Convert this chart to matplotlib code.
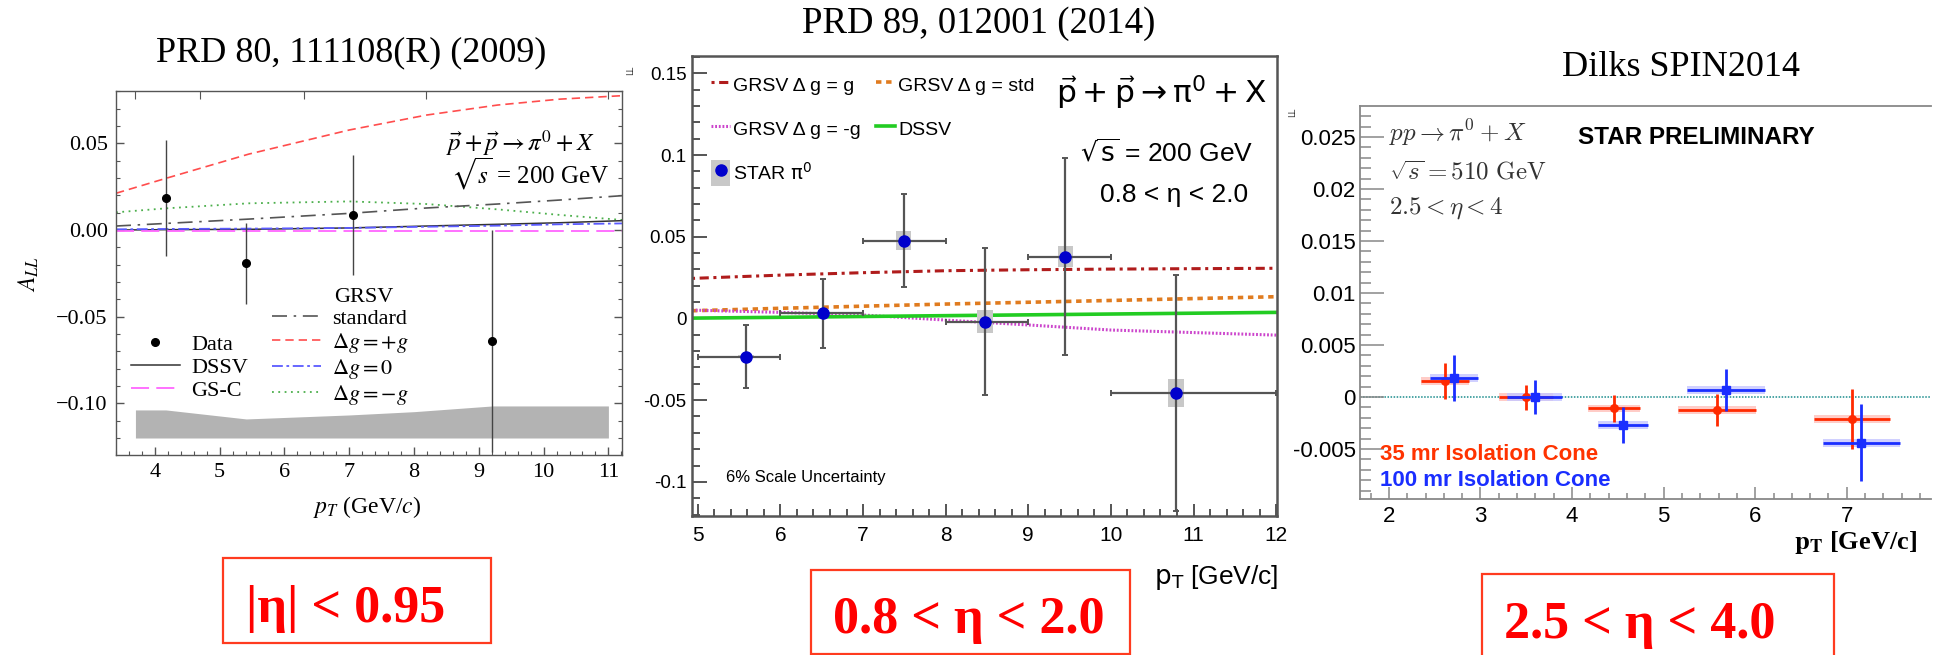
import matplotlib
matplotlib.use('Agg')
import matplotlib.pyplot as plt
from matplotlib.patches import Rectangle
from matplotlib.lines import Line2D
from matplotlib.ticker import MultipleLocator

plt.rcParams['mathtext.fontset'] = 'dejavusans'

# ---------------- data : panel 1 (PRD 80, 111108(R)) ----------------
p1_curve_pt = [3.4, 4.17, 5.45, 7.0, 8.19, 9.29, 10.25, 11.21]
p1_plus_g = [0.0212, 0.0298, 0.0438, 0.0577, 0.0663, 0.0721, 0.0755, 0.0775]
p1_minus_g = [0.0102, 0.0125, 0.0154, 0.0165, 0.0150, 0.0119, 0.0087, 0.0058]
p1_standard = [0.0023, 0.0038, 0.0063, 0.0096, 0.0127, 0.0150, 0.0173, 0.0198]
p1_dssv = [0.0, 0.0002, 0.0004, 0.0012, 0.0023, 0.0033, 0.0042, 0.0054]
p1_zero_g = [0.0004, 0.0006, 0.0008, 0.0012, 0.0019, 0.0025, 0.0033, 0.0038]
p1_gsc = [-0.0003, -0.0003, -0.0003, -0.0003, -0.0003, -0.0003, -0.0003, -0.0003]
p1_pt = [4.17, 5.40, 7.06, 9.21]
p1_all = [0.0183, -0.0192, 0.0087, -0.0642]
p1_err = [0.0335, 0.0233, 0.0346, 0.0640]
p1_band_pt = [3.7, 4.17, 5.41, 7.0, 8.0, 9.21, 11.0]
p1_band_top = [-0.1038, -0.1038, -0.1090, -0.1067, -0.1048, -0.1015, -0.1015]
p1_band_bot = [-0.120, -0.120, -0.120, -0.120, -0.120, -0.120, -0.120]
p1_xticks = [4, 5, 6, 7, 8, 9, 10, 11]
p1_yticks = [-0.10, -0.05, 0.0, 0.05]
p1_yticklabels = ['\u22120.10', '\u22120.05', '0.00', '0.05']
p1_top_ticks = [3.693, 4.704, 6.303, 8.191, 11.0]

# ---------------- data : panel 2 (PRD 89, 012001) ----------------
p2_curve_pt = [4.93, 6.0, 7.0, 8.0, 9.0, 10.0, 12.0]
p2_grsv_g = [0.0245, 0.0265, 0.0280, 0.0292, 0.0298, 0.0302, 0.0307]
p2_grsv_std = [0.0047, 0.0062, 0.0075, 0.0088, 0.0099, 0.0110, 0.0133]
p2_grsv_mg = [0.0051, 0.0037, 0.0021, -0.0010, -0.0040, -0.0071, -0.0102]
p2_dssv = [0.0002, 0.0007, 0.0012, 0.0017, 0.0022, 0.0027, 0.0037]
p2_pt = [5.58, 6.52, 7.49, 8.48, 9.45, 10.79]
p2_all = [-0.0234, 0.0031, 0.0476, -0.0020, 0.0378, -0.0455]
p2_err = [0.0194, 0.0212, 0.0285, 0.0450, 0.0603, 0.0722]
p2_bin_lo = [5.0, 6.0, 7.0, 8.0, 9.0, 10.0]
p2_bin_hi = [6.0, 7.0, 8.0, 9.0, 10.0, 12.0]
p2_sys = [0.002, 0.002, 0.012, 0.014, 0.013, 0.017]
p2_yticks = [-0.1, -0.05, 0.0, 0.05, 0.1, 0.15]
p2_yticklabels = ['-0.1', '-0.05', '0', '0.05', '0.1', '0.15']
p2_xticks = [5, 6, 7, 8, 9, 10, 11, 12]

# ---------------- data : panel 3 (Dilks SPIN2014) ----------------
p3_red_pt = [2.611, 3.493, 4.457, 5.584, 7.054]
p3_red_lo = [2.353, 3.199, 4.172, 5.154, 6.638]
p3_red_hi = [2.869, 3.796, 4.738, 6.005, 7.475]
p3_red_all = [0.00154, -0.00003, -0.0011, -0.00125, -0.0021]
p3_red_err = [0.00175, 0.00123, 0.00133, 0.00155, 0.0029]
p3_blue_pt = [2.710, 3.593, 4.557, 5.679, 7.158]
p3_blue_lo = [2.452, 3.290, 4.285, 5.258, 6.738]
p3_blue_hi = [2.973, 3.887, 4.828, 6.109, 7.579]
p3_blue_all = [0.0018, 0.0, -0.0027, 0.00067, -0.0044]
p3_blue_err = [0.0022, 0.0016, 0.0017, 0.0020, 0.0037]
p3_sys = [0.00037, 0.00037, 0.00037, 0.00037, 0.00037]
p3_yticks = [-0.005, 0.0, 0.005, 0.01, 0.015, 0.02, 0.025]
p3_yticklabels = ['-0.005', '0', '0.005', '0.01', '0.015', '0.02', '0.025']
p3_xticks = [2, 3, 4, 5, 6, 7]

W, H = 1939, 655
fig = plt.figure(figsize=(W / 100, H / 100), dpi=100)

SERIF = ['Liberation Serif', 'DejaVu Serif']
SANS = ['Liberation Sans', 'DejaVu Sans']


def frect(l, t, r, b):
    return [l / W, 1 - b / H, (r - l) / W, (b - t) / H]


def fx(x):
    return x / W


def fy(y):
    return 1 - y / H


def ftext(x, y, s, **kw):
    return fig.text(fx(x), fy(y), s, **kw)


# ======================= PANEL 1 =======================
ax1 = fig.add_axes(frect(116, 91, 622, 455))
ax1.set_xlim(3.4, 11.21)
ax1.set_ylim(-0.1298, 0.0802)
ax1.fill_between(p1_band_pt, p1_band_bot, p1_band_top, color='#b3b3b3', lw=0, zorder=1)
h_pg, = ax1.plot(p1_curve_pt, p1_plus_g, color='#ff4d4d', ls=(0, (5, 3)), lw=1.2)
h_mg, = ax1.plot(p1_curve_pt, p1_minus_g, color='#4caf4c', ls=(0, (1, 2.5)), lw=1.3)
l_std, = ax1.plot(p1_curve_pt, p1_standard, color='#555555', ls=(0, (9, 4, 1.5, 4)), lw=1.2)
l_dssv, = ax1.plot(p1_curve_pt, p1_dssv, color='#333333', ls='-', lw=1.1)
l_zero, = ax1.plot(p1_curve_pt, p1_zero_g, color='#5a5aff', ls=(0, (6, 2, 1.5, 2)), lw=1.3)
l_gsc, = ax1.plot(p1_curve_pt, p1_gsc, color='#ff66ff', ls=(0, (10, 4)), lw=1.3)
ax1.errorbar(p1_pt, p1_all, yerr=p1_err, fmt='o', color='black', ms=5.5,
             ecolor='#444444', elinewidth=1.0, capsize=0, zorder=5)
for s in ax1.spines.values():
    s.set_color('#555555')
    s.set_linewidth(1.0)
ax1.set_xticks(p1_xticks)
ax1.set_xticklabels([str(v) for v in p1_xticks], fontfamily=SERIF, fontsize=16)
ax1.set_yticks(p1_yticks)
ax1.set_yticklabels(p1_yticklabels, fontfamily=SERIF, fontsize=16)
ax1.xaxis.set_minor_locator(MultipleLocator(0.2))
ax1.yaxis.set_minor_locator(MultipleLocator(0.01))
ax1.tick_params(which='both', direction='in', top=False, right=True, color='#555555')
ax1.tick_params(which='major', length=6, width=1, pad=6)
ax1.tick_params(which='minor', length=3.2, width=0.8)
ax1t = ax1.twiny()
ax1t.set_xlim(ax1.get_xlim())
ax1t.set_xticks(p1_top_ticks)
ax1t.set_xticklabels([])
ax1t.tick_params(direction='in', length=6, color='#555555')
for s in ax1t.spines.values():
    s.set_visible(False)

ax1.text(0.652, 0.857, '$\\vec{p}+\\vec{p}\\rightarrow\\pi^{0}+X$', transform=ax1.transAxes,
         fontsize=18, fontfamily=SERIF, math_fontfamily='stix', va='center', ha='left')
ax1.text(0.662, 0.772, '$\\sqrt{s}$ = 200 GeV', transform=ax1.transAxes,
         fontsize=18, fontfamily=SERIF, math_fontfamily='stix', va='center', ha='left')

h_data = Line2D([], [], marker='o', ls='none', color='black', ms=5.5)
leg1 = ax1.legend([h_data, l_dssv, l_gsc], ['Data', 'DSSV', 'GS-C'],
                  loc='upper left', bbox_to_anchor=(fx(131), fy(334)),
                  bbox_transform=fig.transFigure, frameon=False, borderpad=0,
                  borderaxespad=0, handlelength=2.2, handletextpad=0.5,
                  labelspacing=0.12, prop={'family': SERIF, 'size': 16})
for t in leg1.get_texts():
    t.set_math_fontfamily('stix')
ax1.add_artist(leg1)
leg2 = ax1.legend([l_std, h_pg, l_zero, h_mg],
                  ['standard', '$\\Delta g = +g$', '$\\Delta g = 0$', '$\\Delta g = -g$'],
                  loc='upper left', bbox_to_anchor=(fx(272), fy(308)),
                  bbox_transform=fig.transFigure, frameon=False, borderpad=0,
                  borderaxespad=0, handlelength=2.2, handletextpad=0.5,
                  labelspacing=0.1, prop={'family': SERIF, 'size': 16})
for t in leg2.get_texts():
    t.set_math_fontfamily('stix')
ftext(334, 297, 'GRSV', fontsize=16, fontfamily=SERIF, va='center', ha='left')

ftext(351, 53, 'PRD 80, 111108(R) (2009)', fontsize=26, fontfamily=SERIF, ha='center', va='center')
ftext(29, 274, '$A_{LL}$', fontsize=17, rotation=90, math_fontfamily='stix', ha='center', va='center')
ftext(367, 507, '$p_T$ (GeV/$c$)', fontsize=17, fontfamily=SERIF, math_fontfamily='stix',
      ha='center', va='center')

# ======================= PANEL 2 =======================
ax2 = fig.add_axes(frect(692, 56, 1277, 516))
ax2.set_xlim(4.93, 12.01)
ax2.set_ylim(-0.1209, 0.1606)
l2_g, = ax2.plot(p2_curve_pt, p2_grsv_g, color='#b01c1c', ls=(0, (1, 1.5, 3, 1.5)), lw=2.2)
l2_std, = ax2.plot(p2_curve_pt, p2_grsv_std, color='#e07b1f', ls=(0, (1.5, 1.3)), lw=2.6)
l2_mg, = ax2.plot(p2_curve_pt, p2_grsv_mg, color='#cc44cc', ls=(0, (0.6, 0.6)), lw=2.2)
l2_dssv, = ax2.plot(p2_curve_pt, p2_dssv, color='#22cc22', ls='-', lw=2.6)
for x, y, s in zip(p2_pt, p2_all, p2_sys):
    ax2.add_patch(Rectangle((x - 0.095, y - s / 2), 0.19, s, color='#c8c8c8', lw=0, zorder=3))
xerr2 = [[p - lo for p, lo in zip(p2_pt, p2_bin_lo)], [hi - p for p, hi in zip(p2_pt, p2_bin_hi)]]
ax2.errorbar(p2_pt, p2_all, yerr=p2_err, xerr=xerr2, fmt='none', ecolor='#555555',
             elinewidth=1.6, capsize=2.5, capthick=1.4, zorder=4)
ax2.plot(p2_pt, p2_all, 'o', color='#0000cc', ms=8, zorder=5)
for s in ax2.spines.values():
    s.set_color('#555555')
    s.set_linewidth(1.8)
ax2.set_xticks(p2_xticks)
ax2.set_xticklabels([str(v) for v in p2_xticks], fontfamily=SANS, fontsize=15)
ax2.set_yticks(p2_yticks)
ax2.set_yticklabels(p2_yticklabels, fontfamily=SANS, fontsize=13.5)
ax2.xaxis.set_minor_locator(MultipleLocator(0.2))
ax2.yaxis.set_minor_locator(MultipleLocator(0.01))
ax2.tick_params(which='both', direction='in', color='#555555', width=1.4)
ax2.tick_params(axis='y', which='major', length=11, pad=4)
ax2.tick_params(axis='y', which='minor', length=6)
ax2.tick_params(axis='x', which='major', length=9, pad=7)
ax2.tick_params(axis='x', which='minor', length=5)

h_star = (Rectangle((0, 0), 1, 1, color='#c8c8c8', lw=0),
          Line2D([], [], marker='o', ls='none', color='#0000cc', ms=8))
leg3 = ax2.legend([l2_g, l2_mg, h_star, l2_std, l2_dssv],
                  ['GRSV \u0394 g = g', 'GRSV \u0394 g = -g', 'STAR $\\mathrm{\\pi}^{0}$',
                   'GRSV \u0394 g = std', 'DSSV'],
                  ncol=2, loc='upper left', bbox_to_anchor=(fx(711), fy(72)),
                  bbox_transform=fig.transFigure, frameon=False, borderpad=0,
                  borderaxespad=0, handlelength=1.0, handleheight=1.65,
                  handletextpad=0.15, columnspacing=0.75, labelspacing=0.95,
                  prop={'family': SANS, 'size': 14})
ax2.text(0.623, 0.92, '$\\vec{\\mathrm{p}}+\\vec{\\mathrm{p}}\\rightarrow\\mathrm{\\pi}^{0}+\\mathrm{X}$',
         transform=ax2.transAxes, fontsize=22.5, fontfamily=SANS, va='center', ha='left')
ax2.text(0.959, 0.789, '$\\sqrt{\\mathrm{s}}$ = 200 GeV', transform=ax2.transAxes,
         fontsize=19, fontfamily=SANS, va='center', ha='right')
ax2.text(0.950, 0.698, '0.8 < \u03b7 < 2.0', transform=ax2.transAxes,
         fontsize=19, fontfamily=SANS, va='center', ha='right')
ax2.text(0.058, 0.083, '6% Scale Uncertainty', transform=ax2.transAxes,
         fontsize=12, fontfamily=SANS, va='center', ha='left')

ftext(979, 24, 'PRD 89, 012001 (2014)', fontsize=26.5, fontfamily=SERIF, ha='center', va='center')
ftext(1278, 577, '$\\mathrm{p}_\\mathrm{T}$ [GeV/c]', fontsize=19, fontfamily=SANS,
      ha='right', va='center')
ftext(631, 70, 'LL', fontsize=6, rotation=90, ha='center', va='center', color='#333333')

# ======================= PANEL 3 =======================
ax3 = fig.add_axes(frect(1360, 106, 1931, 499))
ax3.set_xlim(1.684, 7.92)
ax3.set_ylim(-0.00981, 0.02798)
ax3.axhline(0, color='#1a8c8c', ls=(0, (1, 1)), lw=1.1, zorder=1)
for pts, lo, hi, val, s in [(p3_red_pt, p3_red_lo, p3_red_hi, p3_red_all, p3_sys),
                            (p3_blue_pt, p3_blue_lo, p3_blue_hi, p3_blue_all, p3_sys)]:
    col = '#ffc4bd' if pts is p3_red_pt else '#c8c8ff'
    for a, b, v, e in zip(lo, hi, val, s):
        ax3.add_patch(Rectangle((a, v - e), b - a, 2 * e, color=col, lw=0, alpha=0.85, zorder=2))
xerr_r = [[p - a for p, a in zip(p3_red_pt, p3_red_lo)], [b - p for p, b in zip(p3_red_pt, p3_red_hi)]]
xerr_b = [[p - a for p, a in zip(p3_blue_pt, p3_blue_lo)], [b - p for p, b in zip(p3_blue_pt, p3_blue_hi)]]
ax3.errorbar(p3_red_pt, p3_red_all, yerr=p3_red_err, xerr=xerr_r, fmt='o', color='#ff2a00',
             ms=5.5, elinewidth=2.0, capsize=0, zorder=4)
ax3.errorbar(p3_blue_pt, p3_blue_all, yerr=p3_blue_err, xerr=xerr_b, fmt='s', color='#1a2eff',
             ms=5.5, elinewidth=2.0, capsize=0, zorder=5)
ax3.spines['right'].set_visible(False)
for k in ['left', 'bottom', 'top']:
    ax3.spines[k].set_color('#888888')
    ax3.spines[k].set_linewidth(1.3)
ax3.set_xticks(p3_xticks)
ax3.set_xticklabels([str(v) for v in p3_xticks], fontfamily=SANS, fontsize=16)
ax3.set_yticks(p3_yticks)
ax3.set_yticklabels(p3_yticklabels, fontfamily=SANS, fontsize=16)
ax3.xaxis.set_minor_locator(MultipleLocator(0.2))
ax3.yaxis.set_minor_locator(MultipleLocator(0.001))
ax3.tick_params(which='both', direction='in', color='#888888', width=1.1)
ax3.tick_params(axis='y', which='major', length=17, pad=3)
ax3.tick_params(axis='y', which='minor', length=8)
ax3.tick_params(axis='x', which='major', length=9, pad=5)
ax3.tick_params(axis='x', which='minor', length=4)

ftext(1389, 133, '$pp\\rightarrow\\pi^{0}+X$', fontsize=18, math_fontfamily='cm',
      color='#333333', ha='left', va='center')
ftext(1389, 172, '$\\sqrt{s}=510\\ \\mathrm{GeV}$', fontsize=18, math_fontfamily='cm',
      color='#333333', ha='left', va='center')
ftext(1389, 208, '$2.5<\\eta<4$', fontsize=18, math_fontfamily='cm',
      color='#333333', ha='left', va='center')
ftext(1578, 137, 'STAR PRELIMINARY', fontsize=17.5, fontweight='bold', fontfamily=SANS,
      ha='left', va='center')
ftext(1380, 454, '35 mr Isolation Cone', fontsize=16, fontweight='bold', fontfamily=SANS,
      color='#ff3300', ha='left', va='center')
ftext(1380, 480, '100 mr Isolation Cone', fontsize=16, fontweight='bold', fontfamily=SANS,
      color='#1a2eff', ha='left', va='center')
ftext(1681, 67, 'Dilks SPIN2014', fontsize=26, fontfamily=SERIF, ha='center', va='center')
ftext(1917, 543, '$\\mathbf{p}_\\mathbf{T}$ [GeV/c]', fontsize=19, fontweight='bold',
      fontfamily=SERIF, math_fontfamily='stix', ha='right', va='center')
ftext(1293, 112, 'LL', fontsize=6, rotation=90, ha='center', va='center', color='#333333')

# ======================= red boxes =======================
for (x0, y0, x1, y1, cx, by, txt) in [(223, 558, 490.5, 643, 346, 622, '|\u03b7| < 0.95'),
                                      (810.5, 570, 1130.3, 654, 969, 633, '0.8 < \u03b7 < 2.0'),
                                      (1481.6, 574.3, 1833.5, 680, 1640, 638, '2.5 < \u03b7 < 4.0')]:
    fig.add_artist(Rectangle((fx(x0), fy(y1)), (x1 - x0) / W, (y1 - y0) / H,
                             transform=fig.transFigure, fill=False, edgecolor='#ff3b1f', lw=1.6))
    ftext(cx, by, txt, fontsize=37.5, fontweight='bold', fontfamily=SERIF, color='#ff0000',
          ha='center', va='baseline')

fig.savefig('out.png', dpi=100)
